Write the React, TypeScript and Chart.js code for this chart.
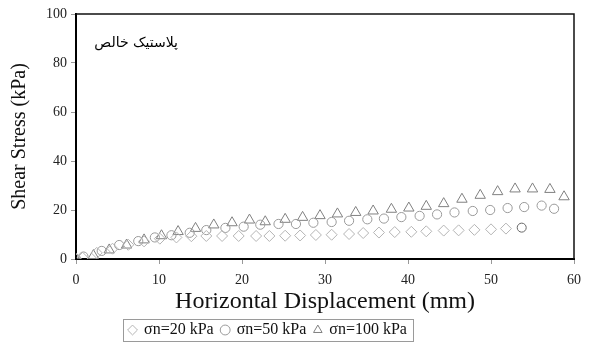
import React, { useEffect, useRef } from 'react';
import { Chart, registerables } from 'chart.js';

Chart.register(...registerables);

const seriesLabels = ['σn=20 kPa', 'σn=50 kPa', 'σn=100 kPa'];
const xTitle = 'Horizontal Displacement (mm)';
const yTitle = 'Shear Stress (kPa)';
const noteText = 'پلاستیک خالص';

const s20X = [0, 0.8, 2.5, 4.4, 6.3, 8.2, 10.1, 12.1, 13.9, 15.7, 17.6, 19.6, 21.7, 23.3, 25.2, 27.0, 28.9, 30.8, 32.9, 34.6, 36.5, 38.4, 40.4, 42.2, 44.3, 46.1, 48.0, 50.0, 51.8, 53.7];
const s20Y = [0, 0.5, 2.5, 4.2, 5.8, 7.2, 8.3, 8.8, 9.3, 9.4, 9.4, 9.4, 9.4, 9.4, 9.5, 9.6, 9.8, 9.9, 10.2, 10.6, 10.8, 11.0, 11.1, 11.3, 11.6, 11.7, 11.9, 12.1, 12.4, 12.8];

const s50X = [0, 0.9, 3.1, 5.2, 7.5, 9.5, 11.5, 13.7, 15.7, 18.0, 20.2, 22.2, 24.4, 26.5, 28.6, 30.8, 32.9, 35.1, 37.1, 39.2, 41.4, 43.5, 45.6, 47.8, 49.9, 52.0, 54.0, 56.1, 57.6];
const s50Y = [0, 1.0, 3.3, 5.7, 7.3, 8.8, 9.7, 10.7, 11.8, 12.7, 13.2, 14.0, 14.3, 14.3, 14.8, 15.1, 15.6, 16.2, 16.5, 17.1, 17.6, 18.2, 19.0, 19.6, 20.0, 20.8, 21.2, 21.8, 20.5];

const s100X = [0, 2.1, 4.0, 6.1, 8.2, 10.3, 12.3, 14.4, 16.6, 18.8, 20.9, 22.8, 25.2, 27.3, 29.4, 31.5, 33.7, 35.8, 38.0, 40.1, 42.2, 44.3, 46.5, 48.7, 50.8, 52.9, 55.0, 57.1, 58.8];
const s100Y = [0, 1.4, 3.7, 5.7, 7.8, 9.5, 11.2, 12.5, 13.9, 14.8, 15.9, 15.2, 16.2, 17.0, 17.7, 18.4, 19.0, 19.6, 20.3, 20.8, 21.5, 22.6, 24.4, 26.0, 27.5, 28.6, 28.6, 28.4, 25.4];

const xMin = 0, xMax = 60, xStep = 10;
const yMin = 0, yMax = 100, yStep = 20;

const toPoints = (xs: number[], ys: number[]) => xs.map((x, i) => ({ x, y: ys[i] }));

const SERIF = '"Liberation Serif", "Times New Roman", serif';

const framePlugin = {
  id: 'frame',
  afterLayout(chart: any) {
    const lg = chart.legend;
    if (lg) {
      const shift = 268 - (lg.left + lg.right) / 2;
      lg.left += shift;
      lg.right += shift;
      lg.top += 3;
      lg.bottom += 3;
    }
  },
  afterDraw(chart: any) {
    const { ctx, chartArea } = chart;
    ctx.save();
    ctx.strokeStyle = '#111';
    ctx.lineWidth = 1.5;
    ctx.beginPath();
    ctx.moveTo(chartArea.left, chartArea.top);
    ctx.lineTo(chartArea.right, chartArea.top);
    ctx.lineTo(chartArea.right, chartArea.bottom);
    ctx.stroke();
    // note text
    ctx.fillStyle = '#000';
    ctx.font = '14px "DejaVu Sans", sans-serif';
    ctx.direction = 'rtl';
    ctx.textAlign = 'right';
    ctx.textBaseline = 'middle';
    ctx.fillText(noteText, 178, 43);
    // legend frame
    const lg = chart.legend;
    if (lg && lg.legendHitBoxes && lg.legendHitBoxes.length) {
      const hb = lg.legendHitBoxes;
      let l = Infinity, r = -Infinity, t = Infinity, b = -Infinity;
      hb.forEach((h: any) => {
        l = Math.min(l, h.left); r = Math.max(r, h.left + h.width);
        t = Math.min(t, h.top); b = Math.max(b, h.top + h.height);
      });
      ctx.strokeStyle = '#9a9a9a';
      ctx.lineWidth = 1;
      ctx.strokeRect(Math.round(l - 6) + 0.5, Math.round(t - 3) + 0.5, Math.round(r - l + 12), Math.round(b - t + 6));
    }
    ctx.restore();
  },
};

export default function App() {
  const ref = useRef<HTMLCanvasElement | null>(null);
  useEffect(() => {
    if (!ref.current) return;
    const n20 = s20X.length;
    const chart = new Chart(ref.current, {
      type: 'scatter',
      data: {
        datasets: [
          {
            label: seriesLabels[0],
            data: toPoints(s20X, s20Y),
            pointStyle: s20X.map((_, i) => (i === n20 - 1 ? 'circle' : 'rectRot')) as any,
            pointRadius: s20X.map((_, i) => (i === n20 - 1 ? 4.5 : 5.5)) as any,
            borderColor: s20X.map((_, i) => (i === n20 - 1 ? '#666' : '#b4b4b4')) as any,
            backgroundColor: 'rgba(0,0,0,0)',
            borderWidth: 1,
          },
          {
            label: seriesLabels[1],
            data: toPoints(s50X, s50Y),
            pointStyle: 'circle',
            pointRadius: 4.6,
            borderColor: '#9a9a9a',
            backgroundColor: 'rgba(0,0,0,0)',
            borderWidth: 1,
          },
          {
            label: seriesLabels[2],
            data: toPoints(s100X, s100Y),
            pointStyle: 'triangle',
            pointRadius: 6,
            borderColor: '#808080',
            backgroundColor: 'rgba(0,0,0,0)',
            borderWidth: 1,
          },
        ],
      },
      options: {
        animation: false,
        responsive: false,
        devicePixelRatio: 1,
        layout: { padding: { left: 0, right: 21, top: 14, bottom: 0 } },
        plugins: {
          tooltip: { enabled: false },
          legend: {
            position: 'bottom',
            labels: {
              usePointStyle: true,
              boxWidth: 7,
              boxHeight: 7,
              padding: 8,
              color: '#111',
              font: { family: SERIF, size: 16 },
            },
          },
        },
        scales: {
          x: {
            type: 'linear',
            min: xMin,
            max: xMax,
            ticks: { stepSize: xStep, padding: 8, color: '#222', font: { family: SERIF, size: 14 } },
            grid: { drawOnChartArea: false, drawTicks: true, tickLength: 5, color: '#999' },
            border: { display: true, color: '#000', width: 2 },
            title: { display: true, text: xTitle, color: '#111', font: { family: SERIF, size: 24 }, padding: { top: 0, bottom: -5 } },
            afterFit: (s: any) => {
              const lg = s.chart.legend;
              s.height = 345 - 259 - (lg ? lg.height : 0);
            },
          },
          y: {
            type: 'linear',
            min: yMin,
            max: yMax,
            ticks: { stepSize: yStep, padding: 4, color: '#222', font: { family: SERIF, size: 14 } },
            grid: { drawOnChartArea: false, drawTicks: true, tickLength: 5, color: '#999' },
            border: { display: true, color: '#000', width: 2 },
            title: { display: true, text: yTitle, color: '#111', font: { family: SERIF, size: 20 }, padding: { top: 8, bottom: 0 } },
            afterFit: (s: any) => {
              s.width = 76;
            },
          },
        },
      },
      plugins: [framePlugin],
    } as any);
    return () => chart.destroy();
  }, []);
  return (
    <div style={{ position: 'absolute', left: 0, top: 0, width: 595, height: 345, background: '#fff' }}>
      <canvas ref={ref} width={595} height={345} style={{ display: 'block' }} />
    </div>
  );
}
